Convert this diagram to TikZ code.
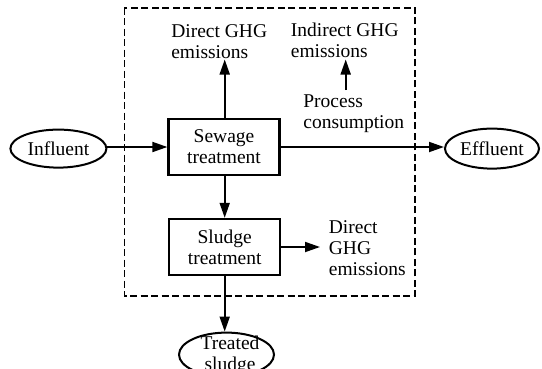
\documentclass[tikz,border=0pt]{standalone}
\usepackage{fontspec}
\setmainfont{Liberation Serif}
\usetikzlibrary{arrows.meta,shapes.geometric}

\begin{document}
\begin{tikzpicture}[x=1pt,y=-1pt,line width=1.8pt,
    >={Triangle[length=15pt,width=10pt]},
    font=\fontsize{19.5pt}{21pt}\selectfont,
    proc/.style={draw,line width=2.3pt,minimum width=111pt,minimum height=56pt,align=center,inner sep=0pt},
    term/.style={draw,ellipse,line width=2pt,inner sep=0pt},
    txt/.style={align=left,inner sep=0pt},
    sysbox/.style={line width=1.8pt,dash pattern=on 7pt off 3.5pt}]
      \useasboundingbox (0,0) rectangle (542,368);
      \draw[sysbox] (124.4,7.6) rectangle (414.8,296);
      \node[proc] (sewage) at (224,147) {Sewage\\treatment};
      \node[proc] (sludge) at (224.7,247) {Sludge\\treatment};
      \node[term,minimum width=96pt,minimum height=38pt] (influent) at (58.4,148.6) {Influent};
      \node[term,minimum width=94pt,minimum height=40pt] (effluent) at (492,148.6) {Effluent};
      \node[term,minimum width=95pt,minimum height=44pt] (treated) at (226.5,354.6) {};
      \node[align=center,inner sep=0pt] (treatedtxt) at (230,355) {Treated\\sludge};
      \node[txt,anchor=west] (ghgtop) at (170.4,42) {Direct GHG\\emissions};
      \node[txt,anchor=west] (indirect) at (290,40.5) {Indirect GHG\\emissions};
      \node[txt,anchor=west] (process) at (302.5,114) {Process\\consumption};
      \node[txt,anchor=west] (ghgright) at (328,248) {Direct\\GHG\\emissions};
      \coordinate (upx) at (345.7,0);
      \coordinate (topx) at (224.7,59.5);
      \draw[->] (influent.east |- sewage.west) -- (sewage.west);
      \draw[->] (sewage.east) -- (effluent.west |- sewage.east);
      \draw[->] (sewage.north -| topx) -- (topx);
      \draw[->] (process.north -| upx) ++(0,-4) -- (upx |- topx);
      \draw[->] (sewage.south -| sludge.north) -- (sludge.north);
      \draw[->] (sludge.east) -- ([xshift=-8pt]ghgright.west |- sludge.east);
      \draw[->] (sludge.south) -- (sludge.south |- treated.north);
\end{tikzpicture}
\end{document}
